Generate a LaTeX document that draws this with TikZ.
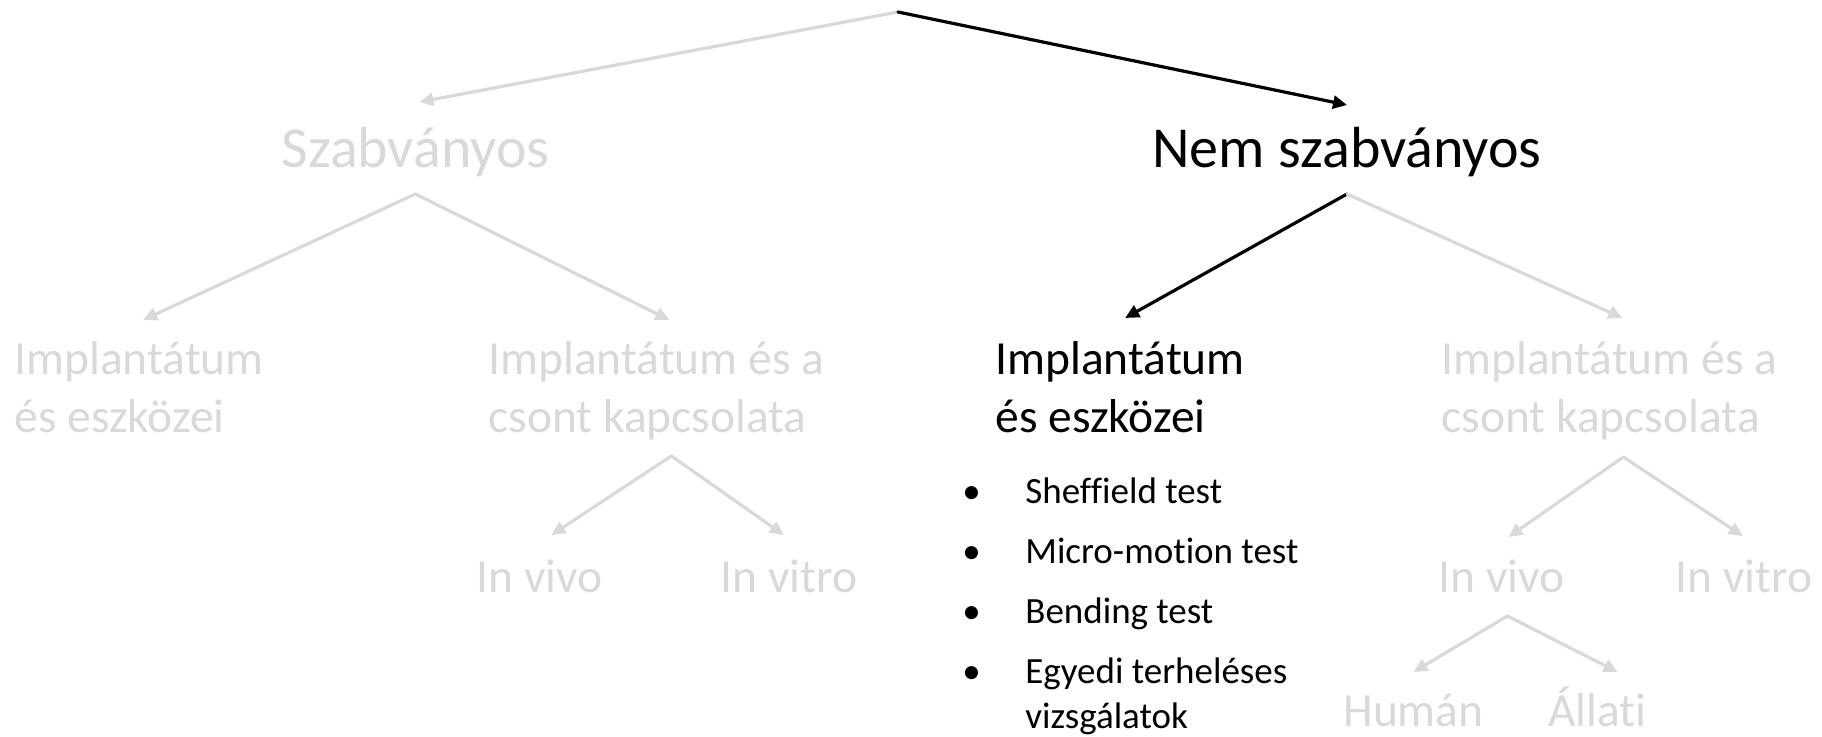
\documentclass[tikz,border=0pt]{standalone}
\usepackage{fontspec}
\setmainfont{Carlito}[Ligatures=NoCommon]
\usetikzlibrary{arrows.meta,calc}

\definecolor{faintgray}{RGB}{217,217,217}

\tikzset{
  txt/.style={inner sep=0pt, anchor=base west},
  faint/.style={txt, text=faintgray},
  sharp/.style={txt, text=black},
  sizeone/.style={font=\fontsize{29}{34}\selectfont},
  sizetwo/.style={font=\fontsize{23.75}{29}\selectfont},
  sizelist/.style={font=\fontsize{18.5}{22.5}\selectfont},
  link/.style={line width=1.6pt, line cap=round, -{Triangle[length=7pt,width=6.5pt]}},
  faintlink/.style={link, draw=faintgray},
  sharplink/.style={link, draw=black}
}

\begin{document}
\begin{tikzpicture}[x=0.5pt, y=-0.5pt]
\useasboundingbox (0,0) rectangle (1822,737);

% top split
\coordinate (root) at (898,12);
\node[faint, sizeone] (szab) at (281,168) {Szabványos};
\node[sharp, sizeone] (nem) at (1152,168) {Nem szabványos};

% second level
\node[faint, sizetwo] (szabL) at (14,375) {\begin{tabular}[t]{@{}l@{}}Implantátum\\és eszközei\end{tabular}};
\node[faint, sizetwo] (szabR) at (488,375) {\begin{tabular}[t]{@{}l@{}}Implantátum és a\\csont kapcsolata\end{tabular}};
\node[sharp, sizetwo] (nemL) at (995,375) {\begin{tabular}[t]{@{}l@{}}Implantátum\\és eszközei\end{tabular}};
\node[faint, sizetwo] (nemR) at (1441,375) {\begin{tabular}[t]{@{}l@{}}Implantátum és a\\csont kapcsolata\end{tabular}};

% test list
\node[sharp, sizelist] (lista) at (962,504) {\begin{tabular}[t]{@{}p{31.5pt}@{}l@{}}
\textbullet & Sheffield test\\[7.5pt]
\textbullet & Micro-motion test\\[7.5pt]
\textbullet & Bending test\\[7.5pt]
\textbullet & Egyedi terheléses\\
 & vizsgálatok
\end{tabular}};

% third and fourth level
\node[faint, sizetwo] (vivoA) at (476,593) {In vivo};
\node[faint, sizetwo] (vitroA) at (720,593) {In vitro};
\node[faint, sizetwo] (vivoB) at (1438,593) {In vivo};
\node[faint, sizetwo] (vitroB) at (1675,593) {In vitro};
\node[faint, sizetwo] (human) at (1343,726) {Humán};
\node[faint, sizetwo] (allati) at (1548,726) {Állati};

% split points under the parents
\coordinate (szab-a) at ($(szab.base)+(0,26)$);
\coordinate (nem-a) at ($(nem.base)+(0,26)$);
\coordinate (szabR-a) at ($(szabR.base)+(15,81)$);
\coordinate (nemR-a) at ($(nemR.base)+(14,82)$);
\coordinate (vivoB-a) at ($(vivoB.base)+(6,23)$);

% arrows
\draw[faintlink] (root) -- ($(szab.base)+(4,-66)$);
\draw[sharplink] (root) -- ($(nem.base)+(0,-63)$);
\draw[faintlink] (szab-a) -- ($(szabL.base)+(4,-55)$);
\draw[faintlink] (szab-a) -- ($(szabR.base)+(13,-55)$);
\draw[sharplink] (nem-a) -- ($(nemL.base)+(5,-57)$);
\draw[faintlink] (nem-a) -- ($(nemR.base)+(13,-57)$);
\draw[faintlink] (szabR-a) -- ($(vivoA.base)+(12,-58)$);
\draw[faintlink] (szabR-a) -- ($(vitroA.base)+(-5,-58)$);
\draw[faintlink] (nemR-a) -- ($(vivoB.base)+(7,-56)$);
\draw[faintlink] (nemR-a) -- ($(vitroB.base)+(-1,-57)$);
\draw[faintlink] (vivoB-a) -- ($(human.base)+(0,-54)$);
\draw[faintlink] (vivoB-a) -- ($(allati.base)+(20,-54)$);

\end{tikzpicture}
\end{document}
